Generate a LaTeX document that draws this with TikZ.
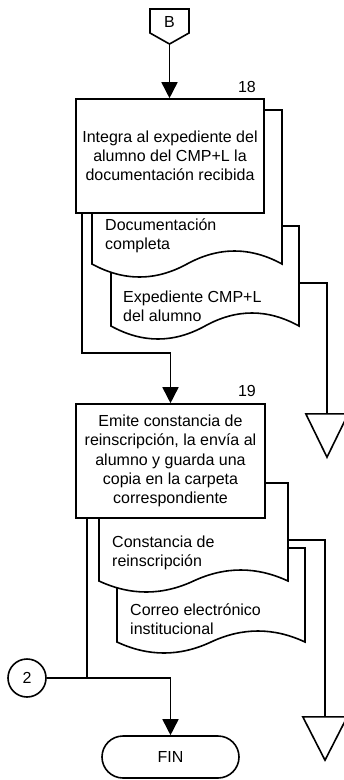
\documentclass[tikz,border=0pt]{standalone}
\usepackage{fontspec}
\setmainfont{Liberation Sans}
\usetikzlibrary{arrows.meta,shapes.misc}
\newcommand\docshape[5]{% xL, yT, xR, yB, amplitude
  \pgfmathsetmacro\dW{#3-#1}%
  \pgfmathsetmacro\dM{(#1+#3)/2}%
  \pgfmathsetmacro\dUp{#4-4*#5/3}%
  \pgfmathsetmacro\dDn{#4+4*#5/3}%
  \draw[line, fill=white] (#1,#2) -- (#3,#2) -- (#3,#4)
    .. controls ({#3-\dW/6},\dUp) and ({#3-\dW/3},\dUp) .. (\dM,#4)
    .. controls ({\dM-\dW/6},\dDn) and ({#1+\dW/6},\dDn) .. (#1,#4) -- cycle;}
\begin{document}
\begin{tikzpicture}[x=1pt,y=-1pt,
  line/.style={line width=1.6pt, line join=miter},
  arr/.style={line, -{Triangle[width=16pt,length=16pt]}},
  txt/.style={font=\fontsize{16}{19.2}\selectfont},
  procbox/.style={draw, line width=1.6pt, fill=white, inner sep=0pt,
     minimum width=#1, minimum height=114pt, txt, align=center},
  doctext/.style={txt, anchor=west, align=left, inner sep=0pt},
  tri/.style={inner sep=0pt, minimum height=43pt, minimum width=#1},
  numlabel/.style={txt, inner sep=0pt}
]
\useasboundingbox (0,0) rectangle (344,780);
\fill[white] (0,0) rectangle (344,780);

% off-page connector B
\draw[line, fill=white] (150,9) -- (189,9) -- (189,33) -- (169.5,44) -- (150,33) -- cycle;
\node[txt, inner sep=0pt] (B) at (169.5,22) {B};
\coordinate (Bt) at (169.5,44);

% documents group 1
\docshape{111}{226}{299}{326}{13}
\docshape{92}{110}{282}{264}{13}
\node[doctext] (d1t) at (105,235.5) {Documentación\\completa};
\node[doctext] (d2t) at (123,306.5) {Expediente CMP+L\\del alumno};
\coordinate (d2e) at (299,283);

% box 18
\node[procbox=188pt] (b18) at (170,156) {Integra al expediente del\\alumno del CMP+L la\\documentación recibida};
\node[numlabel] (n18) at (247,87) {18};

% triangle 1
\node[tri=42pt] (t1) at (327,435.5) {};
\draw[line, fill=white] (t1.north west) -- (t1.north east) -- (t1.south) -- cycle;

% documents group 2
\docshape{117}{548}{305}{642}{11}
\docshape{99}{483}{288}{581}{11}
\node[doctext] (d3t) at (112,553) {Constancia de\\reinscripción};
\node[doctext] (d4t) at (130,619.5) {Correo electrónico\\institucional};
\coordinate (d3e) at (288,540);

% box 19
\node[procbox=189pt] (b19) at (170.5,461) {Emite constancia de\\reinscripción, la envía al\\alumno y guarda una\\copia en la carpeta\\correspondiente};
\node[numlabel] (n19) at (247,391) {19};

% triangle 2
\node[tri=44pt] (t2) at (325,738.5) {};
\draw[line, fill=white] (t2.north west) -- (t2.north east) -- (t2.south) -- cycle;

% connector 2 and end
\node[draw, circle, line width=1.6pt, minimum size=38pt, inner sep=0pt, txt] (c2) at (27,678) {2};
\node[draw, rounded rectangle, line width=1.6pt, minimum width=137pt, minimum height=42pt, inner sep=0pt, txt] (fin) at (170.5,757) {FIN};

% connectors
\coordinate (k1) at (82,353);
\coordinate (k2) at (87,678);
\draw[arr] (Bt) -- (Bt |- b18.north);
\draw[arr] (b18.south -| k1) -- (k1) -| (b19.north);
\draw[line] (d2e) -| (t1.north);
\draw[line] (d3e) -| (t2.north);
\draw[line] (b19.south -| k2) -- (k2);
\draw[arr] (c2) -| (fin.north);
\end{tikzpicture}
\end{document}
